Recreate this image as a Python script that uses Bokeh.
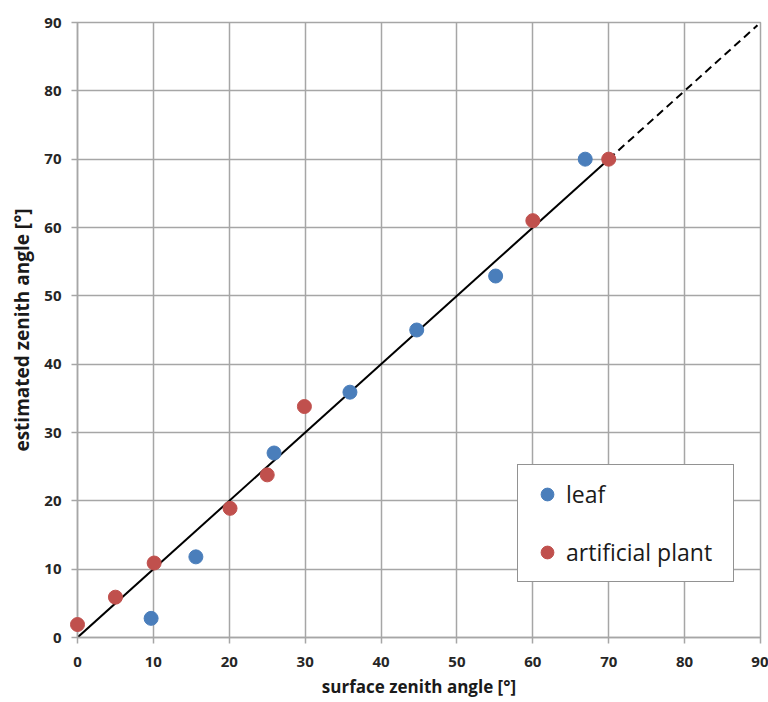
from bokeh.plotting import figure
from bokeh.models import Legend, LegendItem, Range1d, FixedTicker
from bokeh.embed import file_html
from bokeh.resources import INLINE

# data
leaf_x = [9.7, 15.6, 25.9, 35.9, 44.7, 55.1, 66.9]
leaf_y = [2.8, 11.8, 27.0, 35.9, 45.0, 52.9, 70.0]
art_x = [0.0, 5.0, 10.1, 20.1, 25.0, 29.9, 60.0, 70.0]
art_y = [1.9, 5.9, 10.9, 18.9, 23.8, 33.8, 61.0, 70.0]
line_solid = [0, 70]
line_dash = [70, 89.6]
ticks = [0, 10, 20, 30, 40, 50, 60, 70, 80, 90]

GRID = "#a6a6a6"
FONT = "Open Sans"

p = figure(width=768, height=700, output_backend="svg", toolbar_location=None,
           x_range=Range1d(0, 90), y_range=Range1d(0, 90),
           min_border_left=77, min_border_right=8, min_border_top=22, min_border_bottom=62)
p.background_fill_color = "white"
p.outline_line_color = GRID
p.outline_line_width = 1.5

for ax in (p.xaxis[0], p.yaxis[0]):
    ax.ticker = FixedTicker(ticks=ticks)
    ax.axis_line_color = GRID
    ax.axis_line_width = 1.5
    ax.major_tick_line_color = GRID
    ax.major_tick_line_width = 1.5
    ax.major_tick_out = 6
    ax.major_tick_in = 0
    ax.minor_tick_line_color = None
    ax.major_label_text_font = FONT
    ax.major_label_text_font_style = "bold"
    ax.major_label_text_font_size = "15px"
    ax.major_label_text_color = "#262626"
    ax.axis_label_text_font = FONT
    ax.axis_label_text_color = "#1a1a1a"

p.xaxis.axis_label = "surface zenith angle [°]"
p.xaxis.axis_label_text_font_size = "17px"
p.xaxis.axis_label_text_font_style = "bold"
p.xaxis.major_label_standoff = 13
p.xaxis.axis_label_standoff = 5

p.yaxis.axis_label = "estimated zenith angle [°]"
p.yaxis.axis_label_text_font_size = "19px"
p.yaxis.axis_label_text_font_style = "bold"
p.yaxis.major_label_standoff = 10
p.yaxis.axis_label_standoff = 6

p.grid.grid_line_color = GRID
p.grid.grid_line_width = 1.5
p.xgrid.ticker = FixedTicker(ticks=ticks)
p.ygrid.ticker = FixedTicker(ticks=ticks)

p.line(line_solid, line_solid, line_color="black", line_width=2)
p.line(line_dash, line_dash, line_color="black", line_width=2, line_dash="8 5")

r_leaf = p.scatter(leaf_x, leaf_y, size=14, fill_color="#4a7ebb", line_color="#4a7ebb",
                   level="overlay")
r_art = p.scatter(art_x, art_y, size=14, fill_color="#c0504d", line_color="#c0504d",
                  level="overlay")

legend = Legend(items=[LegendItem(label="leaf", renderers=[r_leaf]),
                       LegendItem(label="artificial plant", renderers=[r_art])],
                location=(440, 55))
legend.label_text_font = FONT
legend.label_text_font_size = "23px"
legend.label_text_color = "#1a1a1a"
legend.glyph_width = 32
legend.glyph_height = 32
legend.label_height = 32
legend.label_width = 154
legend.spacing = 26
legend.padding = 13
legend.margin = 0
legend.label_standoff = 3
legend.border_line_color = "#262626"
legend.border_line_width = 1.5
legend.background_fill_color = "white"
legend.background_fill_alpha = 1
p.add_layout(legend, "center")

open("out.html", "w").write(file_html(p, INLINE))
